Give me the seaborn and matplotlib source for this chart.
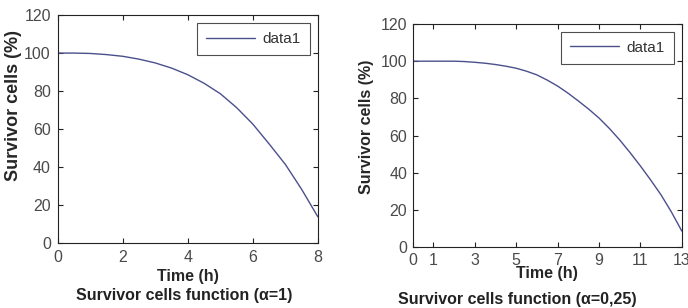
import numpy as np
import pandas as pd
import seaborn as sns
import matplotlib
matplotlib.use("Agg")
import matplotlib.pyplot as plt

# values (every half hour)
t_left = [0, 0.5, 1, 1.5, 2, 2.5, 3, 3.5, 4, 4.5, 5, 5.5, 6, 6.5, 7, 7.5, 8]
s_left = [100, 100, 99.8, 99.2, 98.3, 96.8, 94.8, 92.1, 88.6, 84.1, 78.6, 71.3,
          62.6, 52.2, 41.4, 28.3, 13.8]

t_right = [0, 0.5, 1, 1.5, 2, 2.5, 3, 3.5, 4, 4.5, 5, 5.5, 6, 6.5, 7, 7.5, 8,
           8.5, 9, 9.5, 10, 10.5, 11, 11.5, 12, 12.5, 13]
s_right = [100, 100, 100, 100, 100, 99.8, 99.4, 98.9, 98.2, 97.3, 96.2, 94.6,
           92.6, 89.8, 86.6, 82.8, 78.6, 74.2, 69.4, 63.8, 57.6, 50.8, 43.6, 36,
           28, 18.8, 8.6]

left_ticks = [0, 2, 4, 6, 8]
right_ticks = [0, 1, 3, 5, 7, 9, 11, 13]
y_ticks = [0, 20, 40, 60, 80, 100, 120]

sns.set_style("ticks")
plt.rcParams['font.family'] = ['Liberation Sans', 'DejaVu Sans']

line_color = "#4b4f8c"
grey = "#4a4a4a"

fig = plt.figure(figsize=(6.88, 3.08), dpi=100)
ax1 = fig.add_axes([0.084, 0.211, 0.378, 0.740])
ax2 = fig.add_axes([0.600, 0.198, 0.391, 0.724])

df_l = pd.DataFrame({"t": t_left, "s": s_left})
df_r = pd.DataFrame({"t": t_right, "s": s_right})

sns.lineplot(data=df_l, x="t", y="s", ax=ax1, color=line_color, lw=1.0, label="data1")
sns.lineplot(data=df_r, x="t", y="s", ax=ax2, color=line_color, lw=1.0, label="data1")

for ax, xt, xmax, pad in [(ax1, left_ticks, 8, 5), (ax2, right_ticks, 13, 4)]:
    ax.set_xlim(0, xmax)
    ax.set_ylim(0, 120)
    ax.set_xticks(xt)
    ax.set_yticks(y_ticks)
    ax.tick_params(direction="in", top=True, right=True, length=3.5, width=0.8,
                   labelsize=11.5, labelcolor=grey, color="#222222", pad=pad)
    for sp in ax.spines.values():
        sp.set_visible(True)
        sp.set_linewidth(0.8)
        sp.set_color("#222222")
    leg = ax.legend(loc="upper right", handlelength=3.2, handletextpad=0.5,
                    fontsize=11, frameon=True, fancybox=False,
                    borderaxespad=0.5, borderpad=0.6)
    leg.get_frame().set_edgecolor("#222222")
    leg.get_frame().set_linewidth(0.8)
    for txt in leg.get_texts():
        txt.set_color("#333333")

ax1.set_ylabel("Survivor cells (%)", fontsize=13, fontweight="bold")
ax1.yaxis.set_label_coords(-0.138, 0.605)
ax2.set_ylabel("Survivor cells (%)", fontsize=11.5, fontweight="bold")
ax2.yaxis.set_label_coords(-0.145, 0.54)

ax1.set_xlabel("Time (h)", fontsize=11.5, fontweight="bold", labelpad=3)
ax2.set_xlabel("Time (h)", fontsize=11.5, fontweight="bold", labelpad=-1)

fig.text(0.267, 0.027, "Survivor cells function (\u03b1=1)", ha="center", fontsize=11.5,
         fontweight="bold", color="#222222")
fig.text(0.752, 0.014, "Survivor cells function (\u03b1=0,25)", ha="center", fontsize=11.5,
         fontweight="bold", color="#222222")

fig.savefig("out.png", dpi=100)
